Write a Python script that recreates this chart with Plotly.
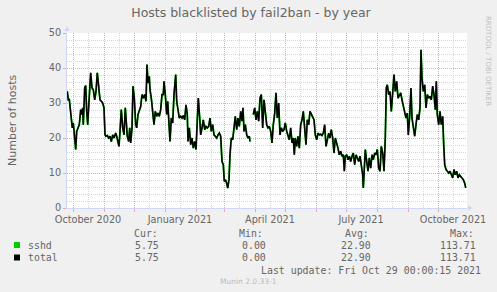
import plotly.graph_objects as go
import pandas as pd

# ---------------- data ----------------
START_DATE = "2020-09-25"
# day offsets from START_DATE
days = [
    0.3, 1.3, 2.3, 3.7, 4.3, 5.3, 6.3, 7.7, 8.7, 9.7, 11, 12.3, 13.7, 14.7, 15.7, 16.3,
    17.7, 18.7, 19.7, 20.7, 22, 23.7, 25, 26.3, 27.7, 29, 30.3, 31.7, 33, 34.3, 35.7, 37,
    38, 39, 40.3, 41.7, 43, 44.3, 45.7, 47, 48.7, 49.7, 51, 52, 53, 54.3, 55.7, 57,
    58.3, 59.3, 60.3, 61.7, 62.7, 63.7, 65, 66, 67.3, 68.7, 69.7, 71, 72.3, 73.7, 75, 76.3,
    77.7, 79, 80, 81, 82.3, 83, 84.3, 85.7, 87, 88.3, 89.7, 91, 92.3, 93.7, 95, 96.3,
    97, 98.3, 99.7, 100.7, 101.7, 103, 104.3, 105.7, 107, 108.7, 109.7, 111, 112.3, 113.7, 115, 116.3,
    117.7, 119, 120.3, 121, 122.3, 123.7, 125, 126.3, 127.7, 129, 130.3, 131.3, 132.7, 133.7, 135, 136.3,
    137.7, 139, 140.3, 141.7, 143, 144.3, 145.7, 147, 148.3, 149.7, 151, 152.3, 153.7, 155, 156.3, 157.3,
    158.3, 159.7, 160.7, 162, 163, 164.3, 165.7, 167, 168.3, 169.7, 171, 172.3, 173.7, 175, 176, 177,
    178.3, 179.7, 181, 182.3, 183, 184.5, 186.3, 187.7, 189, 190.3, 191.7, 193, 194.3, 195.7,
    197, 198.3, 199.7, 201, 202.3, 203.7, 205, 206.3, 207.7, 209, 210.3, 211.7, 213, 214.3, 215.7, 217,
    218.3, 219.7, 221, 222.3, 223.7, 225, 226.3, 227.3, 228.3, 229.7, 231, 232.3, 233.7, 235, 236.3, 237.7,
    239, 240.3, 241.7, 243, 244.3, 245.7, 247, 248.3, 249.7, 251, 252.3, 253.7, 255, 256.3, 257.7, 259,
    260.3, 261.7, 263, 264.3, 265.7, 267, 268.3, 269.7, 271, 272.3, 273.7, 275, 276.3, 277.3, 278.3, 279.7,
    281, 282.3, 283.7, 285, 286.3, 287.7, 289, 290.3, 291.7, 293, 294.3, 295.7, 296.3,
    298.3, 299.7, 301, 302.3, 303.7, 305, 306.3, 307.7, 309, 310.3, 311.7, 313, 314.3, 315.7, 317, 318.3,
    319.3, 320.3, 321.7, 323, 324.3, 325.7, 327, 328.3, 329.7, 331, 332.3, 333.7, 335, 336.3, 337.7, 339,
    340.3, 341.3, 342.7, 344, 345, 346.3, 347.7, 349, 350.3, 351.7, 353, 354, 355, 356.3, 357.7, 359,
    360.3, 361.7, 363, 364.3, 365.7, 367, 368.3, 369.3, 370.3, 371.7, 373, 374.3, 375.7, 376.7, 377.7, 379,
    380.3, 381.7, 383, 384.3, 385.7, 387, 388.3, 389.7, 391, 392.3, 393.7, 395, 396.3, 397.7, 398.7,
]
sshd_hosts = [
    33.3, 30.9, 31.0, 26.7, 23.8, 22.9, 24.3, 20.9, 16.7, 21.9, 22.9, 23.8, 28.1, 26.7, 28.6, 23.8,
    34.3, 35.0, 27.6, 23.8, 30.5, 38.6, 34.3, 33.8, 30.9, 33.3, 38.6, 33.3, 30.9, 30.5, 30.0, 28.6,
    20.9, 20.5, 20.7, 20.0, 20.5, 19.0, 20.9, 20.0, 21.4, 20.5, 19.0, 17.6, 21.9, 28.1, 22.9, 20.9,
    28.6, 22.9, 20.5, 19.0, 22.9, 18.6, 22.9, 34.8, 31.4, 23.8, 22.9, 26.7, 27.6, 29.0, 32.4, 31.4,
    32.4, 30.5, 41.0, 35.7, 37.6, 33.8, 31.4, 27.6, 23.8, 27.6, 26.2, 27.1, 26.2, 28.1, 32.4, 32.4,
    36.2, 32.4, 26.7, 30.5, 24.8, 19.0, 25.7, 24.3, 32.4, 38.1, 30.5, 27.6, 25.7, 26.2, 25.7, 26.4,
    25.2, 29.5, 26.7, 19.0, 22.9, 18.1, 20.0, 17.1, 19.0, 16.7, 23.8, 31.4, 25.7, 20.9, 22.9, 25.2,
    22.4, 23.3, 22.9, 23.3, 25.7, 21.9, 23.8, 20.9, 20.5, 20.0, 20.9, 21.4, 20.5, 13.3, 12.4, 7.6,
    8.1, 7.1, 5.7, 8.1, 15.2, 20.0, 19.5, 22.9, 26.2, 22.4, 25.7, 23.3, 27.6, 24.8, 28.6, 21.9,
    23.8, 20.9, 20.0, 20.5, 19.0, None, 26.7, 28.6, 25.2, 27.6, 24.8, 31.4, 32.4, 22.9,
    30.9, 28.1, 23.8, 22.9, 23.3, 21.9, 18.6, 23.8, 27.1, 32.9, 25.7, 30.0, 20.9, 22.9, 21.9, 22.4,
    24.3, 21.9, 20.9, 19.5, 22.9, 18.6, 20.0, 15.2, 20.0, 17.6, 20.5, 17.1, 23.8, 25.2, 27.6, 22.9,
    18.1, 25.2, 23.8, 27.6, 26.7, 26.2, 25.2, 20.9, 19.5, 21.4, 20.9, 21.1, 20.7, 21.4, 23.8, 17.6,
    20.0, 21.4, 20.0, 22.4, 20.0, 15.7, 20.0, 18.6, 17.1, 15.2, 16.2, 14.8, 15.2, 10.5, 14.8, 15.2,
    13.8, 14.8, 13.3, 14.8, 15.7, 12.4, 15.2, 14.3, 13.3, 14.8, 11.9, 9.5, 5.7,
    16.7, 13.3, 10.5, 14.3, 11.4, 15.2, 13.8, 15.7, 15.2, 16.7, 11.4, 10.5, 17.6, 15.7, 10.5, 20.0,
    34.3, 35.2, 32.4, 33.3, 27.6, 32.9, 38.1, 33.3, 36.2, 31.4, 32.4, 32.9, 30.9, 29.0, 27.6, 25.7,
    27.1, 20.9, 26.2, 34.3, 25.7, 22.9, 20.5, 23.8, 26.7, 25.2, 28.6, 45.2, 37.1, 33.3, 35.2, 28.6,
    32.4, 31.4, 31.9, 30.9, 34.8, 32.4, 28.1, 36.2, 26.7, 23.8, 27.6, 23.8, 26.2, 18.1, 12.4, 11.0,
    10.5, 10.0, 10.5, 9.5, 8.6, 11.0, 9.5, 10.5, 8.6, 9.5, 9.0, 8.6, 8.1, 7.1, 5.75,
]
total_hosts = list(sshd_hosts)  # identical series (only sshd contributes)

series_names = ["sshd", "total"]
series_colors = ["#00CC00", "#000000"]
stat_headers = ["Cur:", "Min:", "Avg:", "Max:"]
stat_values = {
    "sshd": ["5.75", "0.00", "22.90", "113.71"],
    "total": ["5.75", "0.00", "22.90", "113.71"],
}
x_tick_labels = ["October 2020", "January 2021", "April 2021", "July 2021", "October 2021"]
y_ticks = [0, 10, 20, 30, 40, 50]
TITLE = "Hosts blacklisted by fail2ban - by year"
Y_TITLE = "Number of hosts"
LAST_UPDATE = "Last update: Fri Oct 29 00:00:15 2021"
WATERMARK = "Munin 2.0.33-1"
CREDIT = "RRDTOOL / TOBI OETIKER"

# ---------------- figure ----------------
dates = pd.Timestamp(START_DATE) + pd.to_timedelta(days, unit="D")
x_start = pd.Timestamp(START_DATE)
x_end = x_start + pd.Timedelta(days=400)

month_starts = pd.date_range("2020-10-01", "2021-10-01", freq="MS")
mid_months = [m + pd.Timedelta(days=15) for m in month_starts]
label_map = {"October 2020": (2020, 10), "January 2021": (2021, 1), "April 2021": (2021, 4),
             "July 2021": (2021, 7), "October 2021": (2021, 10)}
inv = {v: k for k, v in label_map.items()}
tick_text = [inv.get((d.year, d.month), "") for d in mid_months]

W, H = 497, 292
L, R, T, B = 67, 30, 33, 84
PW, PH = W - L - R, H - T - B


def px(x):
    return (x - L) / PW


def py(y):
    return (T + PH - y) / PH


FONT = "DejaVu Sans"
MONO = "DejaVu Sans Mono"
TXT = "#666666"
AXIS = "#CFD6F8"
MGRID = "#F2A6A6"
GRID = "#D6D6D6"

fig = go.Figure()
fig.add_trace(go.Scatter(x=dates, y=sshd_hosts, mode="lines", name="sshd",
                         line=dict(color=series_colors[0], width=1.8), connectgaps=False))
fig.add_trace(go.Scatter(x=dates, y=total_hosts, mode="lines", name="total",
                         line=dict(color=series_colors[1], width=1.5), connectgaps=False))

fig.update_layout(
    width=W, height=H,
    margin=dict(l=L, r=R, t=T, b=B, pad=0),
    paper_bgcolor="#F0F0F0", plot_bgcolor="#FFFFFF",
    showlegend=False,
    title=dict(text=TITLE, x=251 / W, xanchor="center", y=1 - 13 / H, yanchor="middle",
               font=dict(family=FONT, size=12.5, color=TXT)),
    xaxis=dict(
        type="date", range=[x_start, x_end],
        tickmode="array", tickvals=mid_months, ticktext=tick_text,
        showgrid=True, gridcolor=GRID, griddash="1px,1px", gridwidth=1,
        ticks="", ticklabelstandoff=2, tickfont=dict(family=FONT, size=9.7, color=TXT),
        showline=True, linecolor=AXIS, linewidth=1,
        minor=dict(tickvals=list(month_starts), showgrid=True, gridcolor=MGRID,
                   griddash="1px,1px", gridwidth=1, ticks="outside", ticklen=3, tickcolor=MGRID),
        zeroline=False, fixedrange=True,
    ),
    yaxis=dict(
        range=[0, 50], tickmode="array", tickvals=y_ticks,
        showgrid=True, gridcolor=MGRID, griddash="1px,1px", gridwidth=1,
        ticks="outside", ticklen=3, tickcolor=MGRID,
        tickfont=dict(family=FONT, size=9.7, color=TXT),
        showline=True, linecolor=AXIS, linewidth=1,
        minor=dict(dtick=2, showgrid=True, gridcolor=GRID, griddash="1px,1px", gridwidth=1),
        zeroline=False, fixedrange=True,
    ),
)

annotations = []
# y-axis title
annotations.append(dict(x=px(12), y=py(120), xref="paper", yref="paper", text=Y_TITLE,
                        textangle=-90, showarrow=False, xanchor="center", yanchor="middle",
                        font=dict(family=FONT, size=11, color=TXT)))
# credit
annotations.append(dict(x=px(488), y=py(61), xref="paper", yref="paper", text=CREDIT,
                        textangle=90, showarrow=False, xanchor="center", yanchor="middle",
                        font=dict(family=FONT, size=7, color="#C0C0C0")))
# legend table
header_left = [132, 237, 343, 448]
value_right = [161, 268, 373, 478]
for hx, h in zip(header_left, stat_headers):
    annotations.append(dict(x=px(hx), y=py(233), xref="paper", yref="paper", text=h,
                            showarrow=False, xanchor="left", yanchor="middle",
                            font=dict(family=MONO, size=9.9, color=TXT)))
row_y = [245, 257.5]
for name, color, ry in zip(series_names, series_colors, row_y):
    annotations.append(dict(x=px(26), y=py(ry), xref="paper", yref="paper", text=name,
                            showarrow=False, xanchor="left", yanchor="middle",
                            font=dict(family=MONO, size=9.9, color=TXT)))
    for vx, v in zip(value_right, stat_values[name]):
        annotations.append(dict(x=px(vx), y=py(ry), xref="paper", yref="paper", text=v,
                                showarrow=False, xanchor="right", yanchor="middle",
                                font=dict(family=MONO, size=9.9, color=TXT)))
annotations.append(dict(x=px(483), y=py(270), xref="paper", yref="paper", text=LAST_UPDATE,
                        showarrow=False, xanchor="right", yanchor="middle",
                        font=dict(family=MONO, size=9.9, color=TXT)))
annotations.append(dict(x=px(248), y=py(281), xref="paper", yref="paper", text=WATERMARK,
                        showarrow=False, xanchor="center", yanchor="middle",
                        font=dict(family=FONT, size=7.5, color="#BBBBBB")))
fig.update_layout(annotations=annotations)

shapes = []
# legend colour boxes
for color, ry in zip(series_colors, row_y):
    shapes.append(dict(type="rect", xref="paper", yref="paper",
                       x0=px(14), x1=px(20), y0=py(ry + 3), y1=py(ry - 3),
                       fillcolor=color, line=dict(width=0)))
# axis arrows
shapes.append(dict(type="path", xref="paper", yref="paper",
                   path=f"M {px(64.5)} {py(31)} L {px(69.5)} {py(31)} L {px(67)} {py(26)} Z",
                   fillcolor=AXIS, line=dict(width=0)))
shapes.append(dict(type="path", xref="paper", yref="paper",
                   path=f"M {px(468)} {py(205.5)} L {px(468)} {py(210.5)} L {px(473)} {py(208)} Z",
                   fillcolor=AXIS, line=dict(width=0)))
fig.update_layout(shapes=shapes)

fig.write_html("out.html")
